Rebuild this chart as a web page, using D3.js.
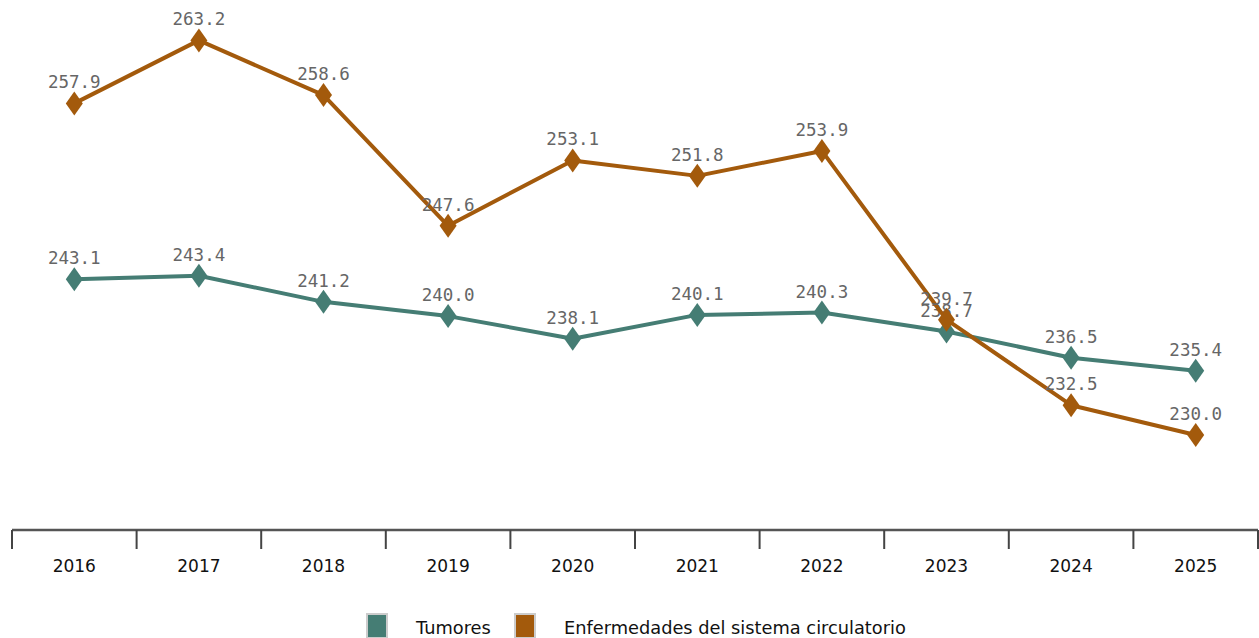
<!DOCTYPE html>
<html>
<head>
<meta charset="utf-8">
<script src="https://cdn.jsdelivr.net/npm/d3@7.9.0/dist/d3.min.js"></script>
<style>
  html, body { margin: 0; padding: 0; background: #fff; }
  svg { display: block; }
</style>
</head>
<body>
<svg id="chart" width="1259" height="638"></svg>
<script>
const years = ['2016', '2017', '2018', '2019', '2020', '2021', '2022', '2023', '2024', '2025'];
const tumores = [243.1, 243.4, 241.2, 240.0, 238.1, 240.1, 240.3, 238.7, 236.5, 235.4];
const circulatorio = [257.9, 263.2, 258.6, 247.6, 253.1, 251.8, 253.9, 239.7, 232.5, 230.0];
const seriesNames = ['Tumores', 'Enfermedades del sistema circulatorio'];
const seriesColors = ['#457d74', '#a35a0c'];

const svg = d3.select('#chart');
const axisY = 530;

const x = d3.scaleBand().domain(years).range([12, 1258]);
const y = d3.scaleLinear().domain([222, 266.6]).range([axisY, 0]);

// axis
const axis = svg.append('g');
axis.append('line')
  .attr('x1', x.range()[0]).attr('x2', x.range()[1])
  .attr('y1', axisY).attr('y2', axisY)
  .attr('stroke', '#555').attr('stroke-width', 2.5);
const tickXs = years.map(d => x(d)).concat([x.range()[1]]);
axis.selectAll('.tick')
  .data(tickXs)
  .join('line')
  .attr('x1', d => d).attr('x2', d => d)
  .attr('y1', axisY).attr('y2', axisY + 19)
  .attr('stroke', '#444').attr('stroke-width', 2);
axis.selectAll('.lab')
  .data(years)
  .join('text')
  .attr('x', d => x(d) + x.bandwidth() / 2)
  .attr('y', 572)
  .attr('text-anchor', 'middle')
  .attr('font-family', 'DejaVu Sans')
  .attr('font-size', 17)
  .attr('fill', '#111')
  .text(d => d);

const diamond = 'M0,-12L8.5,0L0,12L-8.5,0Z';

[tumores, circulatorio].forEach((vals, si) => {
  const g = svg.append('g');
  const line = d3.line()
    .x((d, i) => x(years[i]) + x.bandwidth() / 2)
    .y(d => y(d));
  g.append('path')
    .attr('d', line(vals))
    .attr('fill', 'none')
    .attr('stroke', seriesColors[si])
    .attr('stroke-width', 4)
    .attr('stroke-linejoin', 'round');
  g.selectAll('.pt')
    .data(vals)
    .join('path')
    .attr('d', diamond)
    .attr('transform', (d, i) => `translate(${x(years[i]) + x.bandwidth() / 2},${y(d)})`)
    .attr('fill', seriesColors[si]);
  g.selectAll('.val')
    .data(vals)
    .join('text')
    .attr('x', (d, i) => x(years[i]) + x.bandwidth() / 2)
    .attr('y', d => y(d) - 15)
    .attr('text-anchor', 'middle')
    .attr('font-family', 'DejaVu Sans Mono')
    .attr('font-size', 17.5)
    .attr('fill', '#666')
    .text(d => d.toFixed(1));
});

// legend
const legendItems = [
  { name: seriesNames[0], color: seriesColors[0], x: 367 },
  { name: seriesNames[1], color: seriesColors[1], x: 515 }
];
const leg = svg.append('g');
legendItems.forEach(it => {
  leg.append('rect')
    .attr('x', it.x).attr('y', 614)
    .attr('width', 20).attr('height', 24)
    .attr('fill', it.color)
    .attr('stroke', '#ccc').attr('stroke-width', 2);
  leg.append('text')
    .attr('x', it.x + 49).attr('y', 634)
    .attr('font-family', 'DejaVu Sans')
    .attr('font-size', 17.8)
    .attr('fill', '#111')
    .text(it.name);
});
</script>
</body>
</html>
